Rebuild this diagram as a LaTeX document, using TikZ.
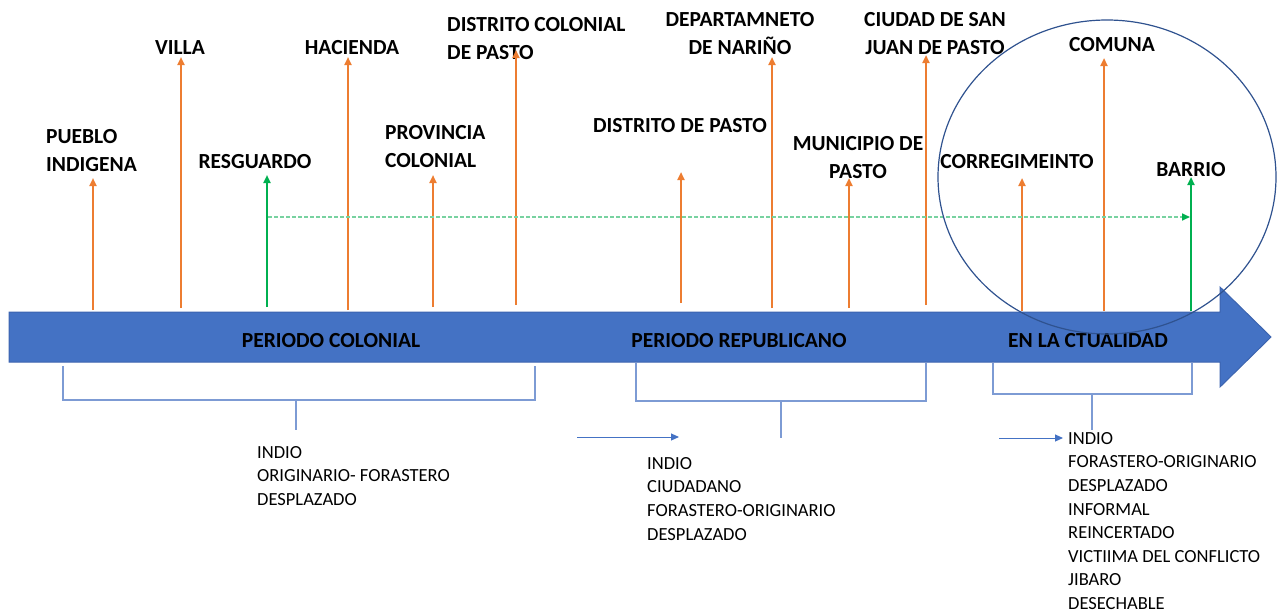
\documentclass[tikz,border=0pt]{standalone}
\usepackage{fontspec}
\setmainfont{Carlito}
\usetikzlibrary{arrows.meta,shapes.geometric}
\definecolor{tlblue}{RGB}{68,114,196}
\definecolor{tlborder}{RGB}{60,100,175}
\definecolor{ora}{RGB}{237,125,49}
\definecolor{grn}{RGB}{0,176,80}
\definecolor{lgrn}{RGB}{120,210,160}
\definecolor{brk}{RGB}{125,155,212}
\definecolor{ellc}{RGB}{47,82,143}
\begin{document}
\begin{tikzpicture}[x=1pt,y=-1pt,
  lbl/.style={font=\bfseries\fontsize{21.5}{28}\selectfont,inner sep=0pt,align=center},
  lbll/.style={lbl,align=left},
  per/.style={font=\bfseries\fontsize{21.5}{24}\selectfont,inner sep=0pt},
  lst/.style={font=\fontsize{18.5}{23.6}\selectfont,inner sep=0pt,align=left,anchor=north west},
  oarr/.style={draw=ora,line width=2pt,-{Triangle[length=8pt,width=7pt]}},
  garr/.style={draw=grn,line width=2pt,-{Triangle[length=8pt,width=7pt]}},
  gdash/.style={draw=lgrn,line width=1.6pt,dash pattern=on 3.5pt off 2.5pt,-{Triangle[length=8pt,width=7pt,color=grn]}},
  brline/.style={draw=brk,line width=1.2pt},
  barr/.style={draw=tlblue,line width=1pt,-{Triangle[length=8pt,width=7pt]}}]
\useasboundingbox (0,0) rectangle (1277,613);
% timeline arrow
\draw[fill=tlblue,draw=tlborder,line width=1pt] (9,312) -- (1220,312) -- (1220,287) -- (1271,337) -- (1220,387) -- (1220,362) -- (9,362) -- cycle;
\node[per] (pcol) at (331,341) {PERIODO COLONIAL};
\node[per] (prep) at (739,341) {PERIODO REPUBLICANO};
\node[per] (pact) at (1088,341) {EN LA CTUALIDAD};
% labels
\node[lbll,anchor=west] (pueblo) at (46,151) {PUEBLO\\INDIGENA};
\node[lbl] (villa) at (180,48) {VILLA};
\node[lbl] (resg) at (255,162) {RESGUARDO};
\node[lbl] (hac) at (352,48) {HACIENDA};
\node[lbll,anchor=west] (prov) at (385,147) {PROVINCIA\\COLONIAL};
\node[lbll,anchor=west] (dcol) at (447,39) {DISTRITO COLONIAL\\DE PASTO};
\node[lbl] (dpas) at (680,126) {DISTRITO DE PASTO};
\node[lbl] (dep) at (740,34) {DEPARTAMNETO\\DE NARIÑO};
\node[lbl] (mun) at (858,158) {MUNICIPIO DE\\PASTO};
\node[lbl] (ciu) at (935,34) {CIUDAD DE SAN\\JUAN DE PASTO};
\node[lbl] (com) at (1112,45) {COMUNA};
\node[lbl] (cor) at (1017,162) {CORREGIMEINTO};
\node[lbl] (bar) at (1191,170) {BARRIO};
% arrow coordinates
\coordinate (b1) at (93,310);   \coordinate (t1) at (93,178);
\coordinate (b2) at (181,308);  \coordinate (t2) at (181,57);
\coordinate (b3) at (267,307);  \coordinate (t3) at (267,175);
\coordinate (b4) at (348,310);  \coordinate (t4) at (348,57);
\coordinate (b5) at (433,307);  \coordinate (t5) at (433,175);
\coordinate (b6) at (516,305);  \coordinate (t6) at (516,50);
\coordinate (b7) at (681,303);  \coordinate (t7) at (681,172);
\coordinate (b8) at (772,308);  \coordinate (t8) at (772,57);
\coordinate (b9) at (849,308);  \coordinate (t9) at (849,178);
\coordinate (b10) at (926,305); \coordinate (t10) at (926,55);
\coordinate (b11) at (1022,311);\coordinate (t11) at (1022,178);
\coordinate (b12) at (1104,311);\coordinate (t12) at (1104,58);
\coordinate (b13) at (1191,311);\coordinate (t13) at (1191,177);
\draw[oarr] (b1) -- (t1);
\draw[oarr] (b2) -- (t2);
\draw[garr] (b3) -- (t3);
\draw[oarr] (b4) -- (t4);
\draw[oarr] (b5) -- (t5);
\draw[oarr] (b6) -- (t6);
\draw[oarr] (b7) -- (t7);
\draw[oarr] (b8) -- (t8);
\draw[oarr] (b9) -- (t9);
\draw[oarr] (b10) -- (t10);
\draw[oarr] (b11) -- (t11);
\draw[oarr] (b12) -- (t12);
\draw[garr] (b13) -- (t13);
% green dashed
\coordinate (gd1) at (268,217);
\coordinate (gd2) at (1190,217);
\draw[gdash] (gd1) -- (gd2);
% ellipse
\node[draw=ellc,line width=1.2pt,ellipse,minimum width=338pt,minimum height=314pt,inner sep=0pt] (circ) at (1107,177) {};
% brackets
\draw[brline] (63,366) -- (63,400) -- (535,400) -- (535,366);
\draw[brline] (296,400) -- (296,430);
\draw[brline] (636,363) -- (636,401) -- (926,401) -- (926,363);
\draw[brline] (781,401) -- (781,438);
\draw[brline] (993,363) -- (993,394) -- (1192,394) -- (1192,363);
\draw[brline] (1092,394) -- (1092,430);
% small arrows
\coordinate (sa1) at (577,437); \coordinate (sa2) at (679,437);
\coordinate (sb1) at (999,438); \coordinate (sb2) at (1063,438);
\draw[barr] (sa1) -- (sa2);
\draw[barr] (sb1) -- (sb2);
% lists
\node[lst] (l1) at (257,446) {INDIO\\ORIGINARIO- FORASTERO\\DESPLAZADO};
\node[lst] (l2) at (647,457) {INDIO\\CIUDADANO\\FORASTERO-ORIGINARIO\\DESPLAZADO};
\node[lst] (l3) at (1068,432) {INDIO\\FORASTERO-ORIGINARIO\\DESPLAZADO\\INFORMAL\\REINCERTADO\\VICTIIMA DEL CONFLICTO\\JIBARO\\DESECHABLE};
\end{tikzpicture}
\end{document}
